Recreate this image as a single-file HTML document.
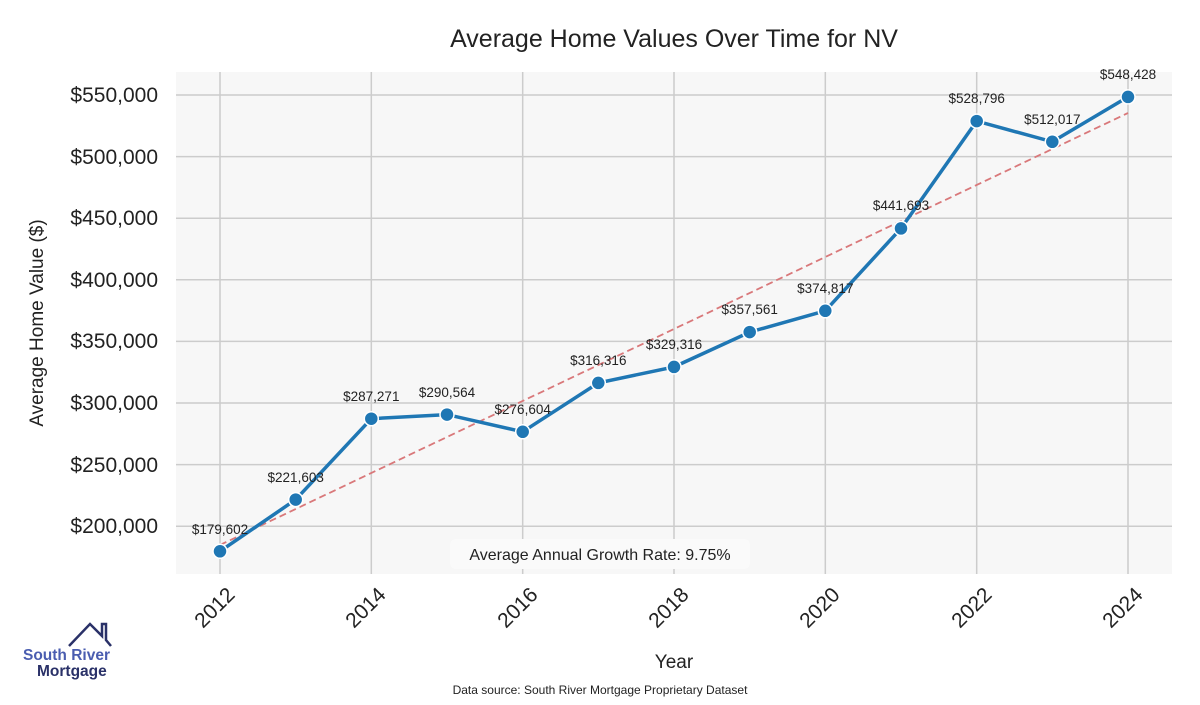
<!DOCTYPE html>
<html><head><meta charset="utf-8"><style>
body{margin:0;background:#fff;}
svg text{font-family:"Liberation Sans",sans-serif;}
</style></head><body>
<svg width="1200" height="700" xmlns="http://www.w3.org/2000/svg">
<rect x="176" y="72" width="996" height="502" fill="#f7f7f7"/>
<g stroke="#cccccc" stroke-width="1.5">
<line x1="176" x2="1172" y1="95" y2="95"/><line x1="176" x2="1172" y1="156.6" y2="156.6"/>
<line x1="176" x2="1172" y1="218.2" y2="218.2"/><line x1="176" x2="1172" y1="279.8" y2="279.8"/>
<line x1="176" x2="1172" y1="341.4" y2="341.4"/><line x1="176" x2="1172" y1="403" y2="403"/>
<line x1="176" x2="1172" y1="464.6" y2="464.6"/><line x1="176" x2="1172" y1="526.2" y2="526.2"/>
<line x1="220" x2="220" y1="72" y2="574"/><line x1="371.3" x2="371.3" y1="72" y2="574"/>
<line x1="522.7" x2="522.7" y1="72" y2="574"/><line x1="674" x2="674" y1="72" y2="574"/>
<line x1="825.3" x2="825.3" y1="72" y2="574"/><line x1="976.7" x2="976.7" y1="72" y2="574"/>
<line x1="1128" x2="1128" y1="72" y2="574"/>
</g>
<line x1="220" y1="545" x2="1128" y2="113" stroke="#d9787a" stroke-width="1.8" stroke-dasharray="7,4"/>
<polyline fill="none" stroke="#1f77b4" stroke-width="3.5" points="220,551.3 295.7,499.6 371.3,418.7 447,414.6 522.7,431.8 598.3,382.9 674,366.9 749.7,332.1 825.3,310.8 901,228.4 976.7,121.1 1052.3,141.8 1128,96.9"/>
<g fill="#1f77b4" stroke="#fff" stroke-width="1.5">
<circle cx="220" cy="551.3" r="7"/><circle cx="295.7" cy="499.6" r="7"/><circle cx="371.3" cy="418.7" r="7"/>
<circle cx="447" cy="414.6" r="7"/><circle cx="522.7" cy="431.8" r="7"/><circle cx="598.3" cy="382.9" r="7"/>
<circle cx="674" cy="366.9" r="7"/><circle cx="749.7" cy="332.1" r="7"/><circle cx="825.3" cy="310.8" r="7"/>
<circle cx="901" cy="228.4" r="7"/><circle cx="976.7" cy="121.1" r="7"/><circle cx="1052.3" cy="141.8" r="7"/>
<circle cx="1128" cy="96.9" r="7"/>
</g>
<g font-size="13.5" fill="#222" text-anchor="middle">
<text x="220" y="534">$179,602</text><text x="295.7" y="482">$221,603</text><text x="371.3" y="401">$287,271</text>
<text x="447" y="397">$290,564</text><text x="522.7" y="414">$276,604</text><text x="598.3" y="365">$316,316</text>
<text x="674" y="349">$329,316</text><text x="749.7" y="314">$357,561</text><text x="825.3" y="293">$374,817</text>
<text x="901" y="210">$441,693</text><text x="976.7" y="103">$528,796</text><text x="1052.3" y="124">$512,017</text>
<text x="1128" y="79">$548,428</text>
</g>
<rect x="450" y="539" width="300" height="30" rx="6" fill="#fafafa"/>
<text x="600" y="560" font-size="16" fill="#222" text-anchor="middle">Average Annual Growth Rate: 9.75%</text>
<g font-size="21" fill="#222" text-anchor="end">
<text x="158" y="102">$550,000</text><text x="158" y="164">$500,000</text><text x="158" y="225">$450,000</text>
<text x="158" y="287">$400,000</text><text x="158" y="348">$350,000</text><text x="158" y="410">$300,000</text>
<text x="158" y="472">$250,000</text><text x="158" y="533">$200,000</text>
</g>
<g font-size="21" fill="#222" text-anchor="end">
<text transform="translate(236,596) rotate(-45)">2012</text>
<text transform="translate(387,596) rotate(-45)">2014</text>
<text transform="translate(539,596) rotate(-45)">2016</text>
<text transform="translate(690,596) rotate(-45)">2018</text>
<text transform="translate(841,596) rotate(-45)">2020</text>
<text transform="translate(993,596) rotate(-45)">2022</text>
<text transform="translate(1144,596) rotate(-45)">2024</text>
</g>
<text x="674" y="668" font-size="19" fill="#222" text-anchor="middle">Year</text>
<text transform="translate(43,323) rotate(-90)" font-size="19" fill="#222" text-anchor="middle">Average Home Value ($)</text>
<text x="674" y="47" font-size="25" fill="#222" text-anchor="middle">Average Home Values Over Time for NV</text>
<text x="600" y="694" font-size="12" fill="#222" text-anchor="middle">Data source: South River Mortgage Proprietary Dataset</text>
<polyline points="69,646 90,624 102,636 102,624 106,624 106,640 111,646" fill="none" stroke="#2a3168" stroke-width="2.5"/>
<text x="23" y="660" font-size="15.5" font-weight="bold" fill="#4a5db0">South River</text>
<text x="37" y="676" font-size="15.5" font-weight="bold" fill="#2a3168">Mortgage</text>
</svg>
</body></html>
